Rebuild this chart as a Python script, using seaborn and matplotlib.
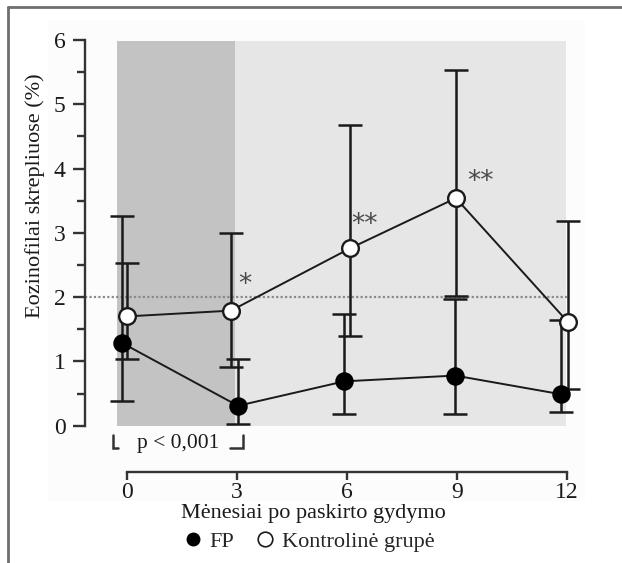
import numpy as np
import pandas as pd
import matplotlib
matplotlib.use("Agg")
import matplotlib.pyplot as plt
import seaborn as sns
from matplotlib.lines import Line2D
from matplotlib.patches import Rectangle
from matplotlib.ticker import MultipleLocator

# ---- data ----
months = [0, 3, 6, 9, 12]
fp_x = [-0.14, 3.03, 5.93, 8.95, 11.83]
fp_mean = [1.29, 0.31, 0.69, 0.78, 0.49]
fp_low = [0.38, 0.02, 0.18, 0.18, 0.21]
fp_high = [3.26, 1.04, 1.73, 1.97, 1.65]

ctrl_x = [0.0, 2.84, 6.09, 8.97, 12.03]
ctrl_mean = [1.70, 1.79, 2.76, 3.54, 1.61]
ctrl_low = [1.04, 0.92, 1.39, 2.01, 0.57]
ctrl_high = [2.53, 2.99, 4.67, 5.54, 3.19]

sig_labels = ["*", "**", "**"]
sig_x = [3.23, 6.49, 9.63]
sig_y = [2.19, 3.12, 3.79]

yticks = [0, 1, 2, 3, 4, 5, 6]
xticks = [0, 3, 6, 9, 12]
ref_level = 2.0

sns.set_style("ticks")
SERIF = ["Liberation Serif", "DejaVu Serif"]
plt.rcParams["font.family"] = SERIF

fig = plt.figure(figsize=(6.22, 5.63), dpi=100)
fig.patch.set_facecolor("white")

# faint scan background + frame
fig.patches.append(Rectangle((48 / 622, 1 - 501 / 563), (585 - 48) / 622, (501 - 20) / 563,
                             transform=fig.transFigure, facecolor="#fcfcfc", edgecolor="none", zorder=-5))
fig.lines.append(Line2D([8 / 622, 1.0], [1 - 7 / 563, 1 - 7 / 563], transform=fig.transFigure,
                        color="#6f6f6f", lw=2))
fig.lines.append(Line2D([8 / 622, 8 / 622], [0, 1 - 7 / 563], transform=fig.transFigure,
                        color="#6f6f6f", lw=2))

ax = fig.add_axes([85 / 622, 137.3 / 563, (600 - 85) / 622, 385.7 / 563])
ax.set_facecolor("none")
ax.set_xlim(-1.14, 12.9)
ax.set_ylim(0, 6)

# shaded periods
ax.axvspan(-0.26, 2.95, ymin=0, ymax=0.998, color="#c3c3c3", lw=0, zorder=0)
ax.axvspan(2.95, 11.97, ymin=0, ymax=0.998, color="#e6e6e6", lw=0, zorder=0)

# reference dotted line
ax.plot([-1.14, 12.0], [ref_level, ref_level], ls=(0, (1, 1)), color="#8a8a8a", lw=1.6, zorder=1)

df_fp = pd.DataFrame({"x": fp_x, "y": fp_mean})
df_ct = pd.DataFrame({"x": ctrl_x, "y": ctrl_mean})

line_col = "#1a1a1a"
# error bars
for xs, m, lo, hi in [(fp_x, fp_mean, fp_low, fp_high), (ctrl_x, ctrl_mean, ctrl_low, ctrl_high)]:
    m = np.array(m)
    yerr = [m - np.array(lo), np.array(hi) - m]
    ax.errorbar(xs, m, yerr=yerr, fmt="none", ecolor=line_col, elinewidth=1.8,
                capsize=8.5, capthick=1.8, zorder=2, clip_on=False)

sns.lineplot(data=df_fp, x="x", y="y", ax=ax, color=line_col, lw=1.4, marker="o",
             markersize=12, markerfacecolor="black", markeredgecolor="black",
             markeredgewidth=1.3, zorder=3, clip_on=False, sort=False)
sns.lineplot(data=df_ct, x="x", y="y", ax=ax, color=line_col, lw=1.4, marker="o",
             markersize=12, markerfacecolor="white", markeredgecolor=line_col,
             markeredgewidth=1.7, zorder=4, clip_on=False, sort=False)

# significance stars
for s, sx, sy in zip(sig_labels, sig_x, sig_y):
    ax.text(sx, sy, s, ha="center", va="center", fontsize=19, color="#4a4a4a",
            fontfamily="DejaVu Sans", zorder=5)

# p-value bracket
bcol = "#333333"
ax.plot([-0.23, -0.37, -0.37], [-0.35, -0.35, -0.145], color=bcol, lw=1.8, clip_on=False,
        solid_joinstyle="miter")
ax.plot([2.82, 3.17, 3.17], [-0.35, -0.35, -0.145], color=bcol, lw=1.8, clip_on=False,
        solid_joinstyle="miter")
ax.text(1.40, -0.28, "p < 0,001", ha="center", va="center", fontsize=15.5, color="#1a1a1a",
        fontfamily=SERIF)

# axes styling
for side in ["top", "right"]:
    ax.spines[side].set_visible(False)
ax.spines["left"].set_bounds(0, 6)
ax.spines["bottom"].set_bounds(0, 12)
ax.spines["bottom"].set_position(("outward", 33.3))
for side in ["left", "bottom"]:
    ax.spines[side].set_linewidth(1.7)
    ax.spines[side].set_color("#333333")

ax.set_yticks(yticks)
ax.set_yticklabels([str(t) for t in yticks], fontfamily=SERIF)
ax.yaxis.set_minor_locator(MultipleLocator(0.5))
ax.set_xticks(xticks)
ax.set_xticklabels([str(t) for t in xticks], fontfamily=SERIF)
ax.tick_params(axis="y", which="major", length=9, width=1.7, color="#333333",
               labelsize=17, pad=5, labelcolor="#1a1a1a")
ax.tick_params(axis="y", which="minor", length=6, width=1.7, color="#333333")
ax.tick_params(axis="x", which="major", length=6, width=1.7, color="#333333",
               labelsize=17, pad=1, labelcolor="#1a1a1a")

ax.set_xlabel("Mėnesiai po paskirto gydymo", fontsize=16, color="#1a1a1a", fontfamily=SERIF)
ax.xaxis.set_label_coords((313 - 85) / 515, (425.7 - 504) / 385.7)
ax.set_ylabel("Eozinofilai skrepliuose (%)", fontsize=16, color="#1a1a1a", fontfamily=SERIF)
ax.yaxis.set_label_coords((45 - 85) / 515, (425.7 - 196) / 385.7)

handles = [
    Line2D([], [], ls="none", marker="o", markersize=9, markerfacecolor="black",
           markeredgecolor="black"),
    Line2D([], [], ls="none", marker="o", markersize=10.5, markerfacecolor="white",
           markeredgecolor="#1a1a1a", markeredgewidth=1.2),
]
fig.legend(handles, ["FP", "Kontrolinė grupė"], loc="center", ncol=2, frameon=False,
           bbox_to_anchor=(308 / 622, 1 - 542 / 563), handletextpad=0.25,
           columnspacing=0.9, handlelength=1.0, borderaxespad=0,
           prop={"family": SERIF, "size": 16})

fig.savefig("out.png", dpi=100)
